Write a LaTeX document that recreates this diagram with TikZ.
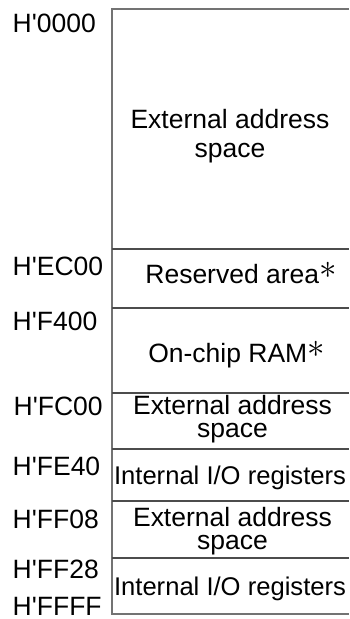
\documentclass[tikz,border=0pt]{standalone}
\usepackage{graphicx}
\usepackage{fontspec}
\setmainfont{Liberation Sans}
\newcommand\bigast{\raisebox{4.5pt}{\scalebox{1.4}{$\ast$}}}
\newcommand\q{\textquotesingle}
\begin{document}
\begin{tikzpicture}[x=1pt,y=-1pt,
  addr/.style={anchor=base west,inner sep=0pt,font=\fontsize{26.5}{30}\selectfont},
  txt/.style={anchor=base,inner sep=0pt,font=\fontsize{26.5}{30}\selectfont},
  txtio/.style={anchor=base,inner sep=0pt,font=\fontsize{25.6}{30}\selectfont},
  frame/.style={draw=black!55,line width=1.8pt},
  divider/.style={draw=black!70,line width=1.2pt}]
\useasboundingbox (0,0) rectangle (349,619);
% frame
\coordinate (tl) at (112,9);
\coordinate (tr) at (349,9);
\coordinate (bl) at (112,614);
\coordinate (br) at (349,614);
\draw[frame] (tr) -- (tl) -- (bl) -- (br);
% dividers
\foreach \y/\n in {249/a,308/b,393/c,449/d,501/e,558/f}{
  \coordinate (l\n) at (112,\y);
  \coordinate (r\n) at (349,\y);
  \draw[divider] (l\n) -- (r\n);
}
% address labels
\node[addr] (h0) at (12.5,32) {H\q0000};
\node[addr] (h1) at (12.5,275) {H\q EC00};
\node[addr] (h2) at (12.5,330) {H\q F400};
\node[addr] (h3) at (13.5,415) {H\q FC00};
\node[addr] (h4) at (12.5,475) {H\q FE40};
\node[addr] (h5) at (12.5,528) {H\q FF08};
\node[addr] (h6) at (12.5,578) {H\q FF28};
\node[addr] (h7) at (12.5,615.5) {H\q FFFF};
% region texts
\node[txt] (e1a) at (230,128) {External address};
\node[txt] (e1b) at (230,157) {space};
\node[txt] (res) at (241,283) {Reserved area\bigast};
\node[txt] (ram) at (236.5,362) {On-chip RAM\bigast};
\node[txt] (e2a) at (232.5,414.5) {External address};
\node[txt] (e2b) at (232.5,437.5) {space};
\node[txtio] (io1) at (230,484) {Internal I/O registers};
\node[txt] (e3a) at (232.5,526) {External address};
\node[txt] (e3b) at (232.5,549) {space};
\node[txtio] (io2) at (230,595) {Internal I/O registers};
\end{tikzpicture}
\end{document}
